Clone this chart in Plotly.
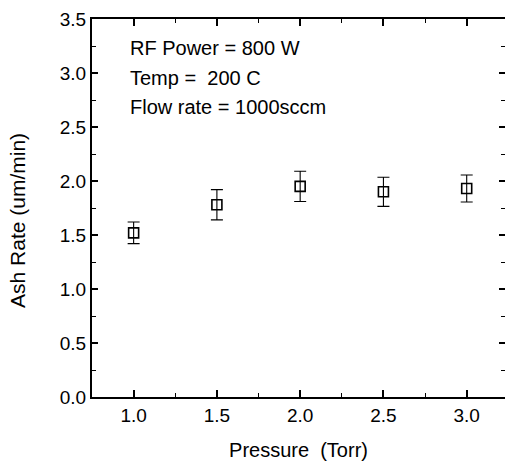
import plotly.graph_objects as go

pressure = [1.0, 1.5, 2.0, 2.5, 3.0]
ash_rate = [1.52, 1.78, 1.95, 1.90, 1.93]
ash_err = [0.10, 0.14, 0.14, 0.135, 0.125]
x_ticks = [1.0, 1.5, 2.0, 2.5, 3.0]
y_ticks = [0.0, 0.5, 1.0, 1.5, 2.0, 2.5, 3.0, 3.5]
notes = ["RF Power = 800 W", "Temp =\u00a0 200 C", "Flow rate = 1000sccm"]
x_title = "Pressure\u00a0 (Torr)"
y_title = "Ash Rate (um/min)"

FONT = "Liberation Sans, Arial, sans-serif"

fig = go.Figure()
fig.add_trace(go.Scatter(
    x=pressure, y=ash_rate, mode="markers",
    marker=dict(symbol="square-open", size=10, color="black", line=dict(width=1.6, color="black")),
    error_y=dict(type="data", array=ash_err, visible=True, color="black", thickness=1.1, width=6),
    showlegend=False, hoverinfo="skip",
))
# invisible trace to carry the right-hand tick axis
fig.add_trace(go.Scatter(
    x=pressure, y=ash_rate, yaxis="y2", mode="markers",
    marker=dict(opacity=0), showlegend=False, hoverinfo="skip",
))

fig.update_layout(
    width=506, height=463,
    margin=dict(l=92, r=1, t=19, b=66),
    paper_bgcolor="white", plot_bgcolor="white",
    font=dict(family=FONT, color="black", size=19),
    xaxis=dict(
        range=[0.75, 3.23], tickvals=x_ticks, ticktext=[f"{v:.1f}" for v in x_ticks],
        ticks="inside", ticklen=7, tickwidth=1.5, tickcolor="black",
        minor=dict(dtick=0.25, tick0=0, ticks="inside", ticklen=4, tickwidth=1.2, tickcolor="black"),
        showline=True, linewidth=2, linecolor="black", mirror="ticks",
        showgrid=False, zeroline=False,
        tickfont=dict(size=19),
        title=dict(text=x_title, font=dict(size=20), standoff=18),
    ),
    yaxis=dict(
        range=[0, 3.5], tickvals=y_ticks, ticktext=[f"{v:.1f}" for v in y_ticks],
        ticks="inside", ticklen=6, tickwidth=1.5, tickcolor="black",
        minor=dict(dtick=0.25, tick0=0, ticks="inside", ticklen=4, tickwidth=1.2, tickcolor="black"),
        showline=True, linewidth=2, linecolor="black", mirror=False,
        showgrid=False, zeroline=False,
        tickfont=dict(size=19),
    ),
    yaxis2=dict(
        range=[0, 3.5], overlaying="y", side="right", tickvals=y_ticks,
        showticklabels=False, ticks="inside", ticklen=6, tickwidth=1.5, tickcolor="black",
        minor=dict(dtick=0.25, tick0=0, ticks="inside", ticklen=4, tickwidth=1.2, tickcolor="black"),
        showline=False, showgrid=False, zeroline=False,
    ),
)

fig.add_annotation(text=y_title, xref="paper", yref="paper", x=-0.182, y=0.468,
                   xanchor="center", yanchor="middle", textangle=-90, showarrow=False,
                   font=dict(size=21, color="black", family=FONT))

ys = [0.923, 0.844, 0.767]
for t, yy in zip(notes, ys):
    fig.add_annotation(text=t, xref="paper", yref="paper", x=0.087, y=yy,
                       xanchor="left", yanchor="middle", showarrow=False,
                       font=dict(size=20, color="black", family=FONT))

fig.write_html("out.html")
